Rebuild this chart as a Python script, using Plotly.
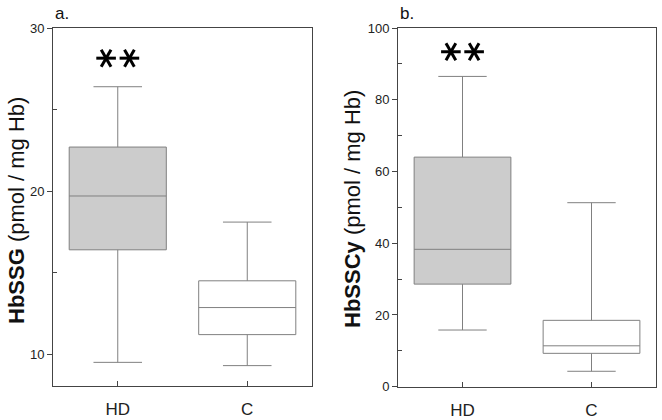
import plotly.graph_objects as go

# ---- data ----
groups = ["HD", "C"]
group_pos = [0, 1]

hbssg_lower = [9.5, 9.3]
hbssg_q1 = [16.4, 11.2]
hbssg_median = [19.7, 12.86]
hbssg_q3 = [22.7, 14.5]
hbssg_upper = [26.4, 18.1]

hbsscy_lower = [15.8, 4.3]
hbsscy_q1 = [28.6, 9.3]
hbsscy_median = [38.3, 11.4]
hbsscy_q3 = [64.0, 18.5]
hbsscy_upper = [86.5, 51.3]

ssg_ticks = [10, 20, 30]
ssg_minor = [15, 25]
sscy_ticks = [0, 20, 40, 60, 80, 100]
sscy_minor = [10, 30, 50, 70, 90]

sig_y = [28.15, 93.4]        # "**" marker height in each panel
sig_group = 0                 # significance shown over HD
sig_offset = 0.09

fills = ["#cccccc", "#ffffff"]
box_line = "#808080"
axis_col = "#444444"

W, H = 662, 420


def px(x):
    return x / W


def py(y):
    return 1 - y / H


fig = go.Figure()

panels = [
    ("x", "y", hbssg_lower, hbssg_q1, hbssg_median, hbssg_q3, hbssg_upper),
    ("x2", "y2", hbsscy_lower, hbsscy_q1, hbsscy_median, hbsscy_q3, hbsscy_upper),
]

for pi, (xa, ya, lo, q1, med, q3, up) in enumerate(panels):
    for gi, g in enumerate(groups):
        fig.add_trace(go.Box(
            x=[group_pos[gi]], q1=[q1[gi]], median=[med[gi]], q3=[q3[gi]],
            lowerfence=[lo[gi]], upperfence=[up[gi]],
            width=0.75, whiskerwidth=0.5, fillcolor=fills[gi],
            line=dict(color=box_line, width=1), boxpoints=False,
            name=g, showlegend=False, hoverinfo="skip",
            xaxis=xa, yaxis=ya,
        ))
    # significance asterisks (6-armed) built from line symbols
    cx = group_pos[sig_group]
    xs = [cx - sig_offset, cx + sig_offset]
    for sym, ang in [("line-ew", 0), ("line-ns", 30), ("line-ns", -30)]:
        fig.add_trace(go.Scatter(
            x=xs, y=[sig_y[pi]] * 2, mode="markers",
            marker=dict(symbol=sym, angle=ang, size=14,
                        line=dict(color="black", width=3)),
            showlegend=False, hoverinfo="skip", xaxis=xa, yaxis=ya,
        ))

xcommon = dict(
    range=[-0.5, 1.5], tickvals=group_pos, ticktext=groups,
    showline=True, mirror=True, linecolor=axis_col, linewidth=1,
    ticks="inside", ticklen=5, tickcolor=axis_col, showgrid=False,
    zeroline=False, tickfont=dict(family="Liberation Sans", size=17, color="#222"),
    ticklabelstandoff=8, automargin=False,
)
ycommon = dict(
    showline=True, mirror=True, linecolor=axis_col, linewidth=1,
    ticks="outside", ticklen=5, tickcolor=axis_col, showgrid=False,
    zeroline=False, tickfont=dict(family="Liberation Sans", size=13, color="#222"),
    automargin=False,
)

fig.update_layout(
    width=W, height=H,
    margin=dict(l=0, r=0, t=0, b=0, autoexpand=False),
    paper_bgcolor="white", plot_bgcolor="white",
    xaxis=dict(domain=[px(53), px(312)], anchor="y", **xcommon),
    xaxis2=dict(domain=[px(398), px(656)], anchor="y2", **xcommon),
    yaxis=dict(domain=[py(386), py(28)], anchor="x", range=[8.05, 30],
               tickvals=ssg_ticks,
               minor=dict(tickmode="array", tickvals=ssg_minor, ticks="inside",
                          ticklen=4, tickcolor=axis_col, showgrid=False),
               **ycommon),
    yaxis2=dict(domain=[py(386.7), py(28)], anchor="x2", range=[0, 100],
                tickvals=sscy_ticks,
                minor=dict(tickmode="array", tickvals=sscy_minor, ticks="inside",
                           ticklen=4, tickcolor=axis_col, showgrid=False),
                **ycommon),
    annotations=[
        dict(text="<b>HbSSG</b> (pmol / mg Hb)", textangle=-90,
             x=px(16), y=py(211), xref="paper", yref="paper",
             xanchor="center", yanchor="middle", showarrow=False,
             font=dict(family="Liberation Sans", size=22, color="#111")),
        dict(text="<b>HbSSCy</b> (pmol / mg Hb)", textangle=-90,
             x=px(352), y=py(209), xref="paper", yref="paper",
             xanchor="center", yanchor="middle", showarrow=False,
             font=dict(family="Liberation Sans", size=22, color="#111")),
        dict(text="a.", x=px(53), y=py(14), xref="paper", yref="paper",
             xanchor="left", yanchor="middle", showarrow=False,
             font=dict(family="Liberation Sans", size=17, color="#111")),
        dict(text="b.", x=px(398), y=py(14), xref="paper", yref="paper",
             xanchor="left", yanchor="middle", showarrow=False,
             font=dict(family="Liberation Sans", size=17, color="#111")),
    ],
)

fig.write_html("out.html", config={"displayModeBar": False},
               post_script="document.body.style.margin='0';")
